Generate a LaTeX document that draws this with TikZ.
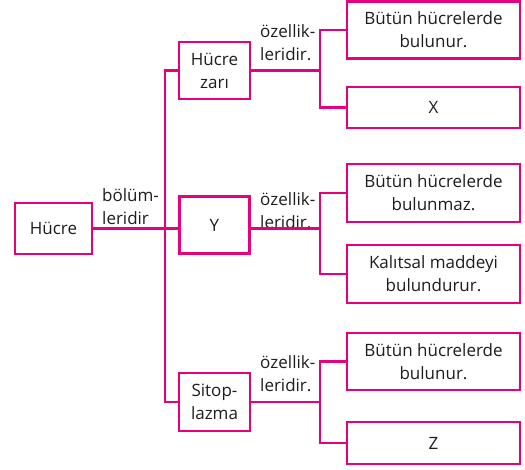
\documentclass[tikz,border=0pt]{standalone}
\usepackage{fontspec}
\setmainfont{Open Sans}
\definecolor{pembe}{RGB}{230,0,126}
\definecolor{yazi}{RGB}{30,28,28}

\begin{document}
\begin{tikzpicture}[x=1pt,y=-1pt,
		kutu/.style={draw=pembe,line width=2.6pt,text=yazi,align=center,inner sep=0pt,font=\fontsize{17}{23}\selectfont},
		etiket/.style={anchor=west,align=left,inner sep=0pt,text=yazi,font=\fontsize{17}{23}\selectfont},
		cizgi/.style={draw=pembe,line width=2.6pt}]
		\useasboundingbox (0,0) rectangle (525,469);
		% ana dallar
		\node[kutu,minimum width=77pt,minimum height=51pt] (hucre) at (53.5,228.5) {Hücre};
		\node[kutu,minimum width=71pt,minimum height=57pt] (zar) at (214.5,70.5) {Hücre\\zarı};
		\node[kutu,minimum width=70pt,minimum height=57pt] (y) at (214.5,225) {Y};
		\node[kutu,minimum width=71pt,minimum height=58pt] (sito) at (214.5,402) {Sitop-\\lazma};
		% özellikler
		\node[kutu,minimum width=173pt,minimum height=57pt] (o1) at (433.5,30) {Bütün hücrelerde\\bulunur.};
		\node[kutu,minimum width=173pt,minimum height=41pt] (o2) at (433.5,107.5) {X};
		\node[kutu,minimum width=173pt,minimum height=58pt] (o3) at (433.5,193) {Bütün hücrelerde\\bulunmaz.};
		\node[kutu,minimum width=173pt,minimum height=58pt] (o4) at (433.5,274) {Kalıtsal maddeyi\\bulundurur.};
		\node[kutu,minimum width=173pt,minimum height=57pt] (o5) at (433.5,361.5) {Bütün hücrelerde\\bulunur.};
		\node[kutu,minimum width=173pt,minimum height=42pt] (o6) at (433.5,443) {Z};
		% etiketler
		\node[etiket] (bolum) at (102,207) {bölüm-\\leridir};
		\node[etiket] (oz1) at (260,43) {özellik-\\leridir.};
		\node[etiket] (oz2) at (260,211) {özellik-\\leridir.};
		\node[etiket] (oz3) at (260,374) {özellik-\\leridir.};
		% çizgiler
		\coordinate (govde) at (165,0);
		\coordinate (dal) at (320,0);
		\draw[cizgi] (zar.west) -- (zar.west -| govde) -- (sito.west -| govde) -- (sito.west);
		\draw[cizgi] (hucre.east) -- (hucre.east -| y.west);
		\draw[cizgi] (zar.east) -- (zar.east -| dal);
		\draw[cizgi] (o1.west) -| (zar.east -| dal) |- (o2.west);
		\draw[cizgi] (hucre.east -| y.east) -- (hucre.east -| dal);
		\draw[cizgi] (o3.west) -| (hucre.east -| dal) |- (o4.west);
		\draw[cizgi] (sito.east) -- (sito.east -| dal);
		\draw[cizgi] (o5.west) -| (sito.east -| dal) |- (o6.west);
	\end{tikzpicture}
\end{document}
